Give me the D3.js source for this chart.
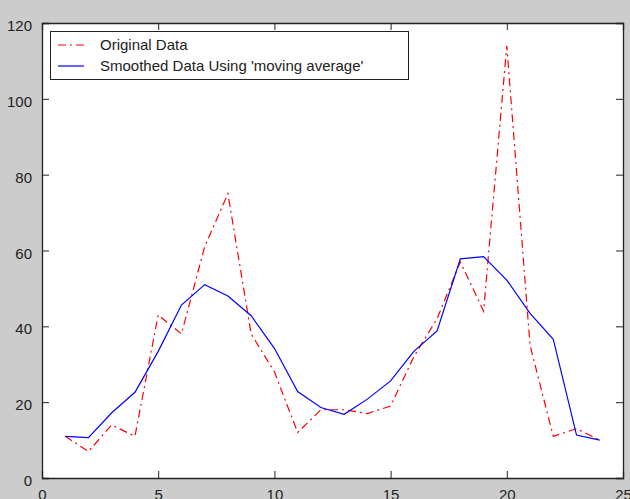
<!DOCTYPE html>
<html>
<head>
<meta charset="utf-8">
<script src="https://cdn.jsdelivr.net/npm/d3@7"></script>
<style>
body{margin:0;background:#cccccc;}
text{font-family:"Liberation Sans","DejaVu Sans",sans-serif;}
</style>
</head>
<body>
<div class="graph"></div>
<script>
// traffic counts, hour 1..24
var hours=[1,2,3,4,5,6,7,8,9,10,11,12,13,14,15,16,17,18,19,20,21,22,23,24];
var original=[11,7,14,11,43,38,61,75,38,28,12,18,18,17,19,32,42,57,44,114,35,11,13,10];
var smoothed=[11,10.67,17.2,22.6,33.4,45.6,51,48,42.8,34.2,22.8,18.6,16.8,20.8,25.6,33.4,38.8,57.8,58.4,52.2,43.4,36.6,11.33,10];
var xTicks=[0,5,10,15,20,25];
var yTicks=[0,20,40,60,80,100,120];
var legendLabels=["Original Data","Smoothed Data Using 'moving average'"];

var width=630, height=499;
var margin={top:23,right:7,bottom:21,left:42};

var svg=d3.select(".graph").append("svg").attr("width",width).attr("height",height);

var x=d3.scaleLinear().domain([0,25]).range([margin.left,width-margin.right]);
var y=d3.scaleLinear().domain([0,120]).range([height-margin.bottom,margin.top]);

// white plot box
svg.append("rect").attr("x",x(0)).attr("y",y(120)).attr("width",x(25)-x(0)).attr("height",y(0)-y(120))
	.style("fill","white");

var tk=7;
var axB=svg.append("g").attr("transform","translate(0,"+y(0)+")")
	.call(d3.axisBottom(x).tickValues(xTicks).tickSize(-tk).tickPadding(tk+1).tickFormat(d3.format("d")));
var axT=svg.append("g").attr("transform","translate(0,"+y(120)+")")
	.call(d3.axisTop(x).tickValues(xTicks).tickSize(-tk).tickFormat(""));
var axL=svg.append("g").attr("transform","translate("+x(0)+",0)")
	.call(d3.axisLeft(y).tickValues(yTicks).tickSize(-tk).tickPadding(tk+3).tickFormat(d3.format("d")));
var axR=svg.append("g").attr("transform","translate("+x(25)+",0)")
	.call(d3.axisRight(y).tickValues(yTicks).tickSize(-tk).tickFormat(""));

[axB,axT,axL,axR].forEach(function(a){
	a.selectAll("path").style("stroke","#222").style("stroke-width",1.3);
	a.selectAll("line").style("stroke","#222");
	a.selectAll("text").style("font-size","15px").style("fill","#222");
});
axB.selectAll("text").attr("dy","0.95em");
axL.selectAll("text").attr("dy","0.5em");

var line=d3.line().x(function(d,i){return x(hours[i]);}).y(function(d){return y(d);});

svg.append("path").datum(original).attr("d",line)
	.style("fill","none").style("stroke","#ff0000").style("stroke-width",1.2).style("stroke-dasharray","8,4,2,4");
svg.append("path").datum(smoothed).attr("d",line)
	.style("fill","none").style("stroke","#0000ff").style("stroke-width",1.2);

//LEGEND
var lg=svg.append("g");
lg.append("rect").attr("x",50.5).attr("y",31.5).attr("width",358).attr("height",48)
	.style("fill","white").style("stroke","#222").style("stroke-width",1);
var styles=[{c:"#ff0000",dash:"8,4,2,4"},{c:"#0000ff",dash:null}];
legendLabels.forEach(function(t,i){
	var yy=45+i*21;
	lg.append("line").attr("x1",58).attr("x2",84).attr("y1",yy).attr("y2",yy)
		.style("stroke",styles[i].c).style("stroke-width",1.2).style("stroke-dasharray",styles[i].dash);
	lg.append("text").attr("x",100).attr("y",yy+5).text(t).style("font-size","15px").style("fill","#222");
});
</script>
</body>
</html>
